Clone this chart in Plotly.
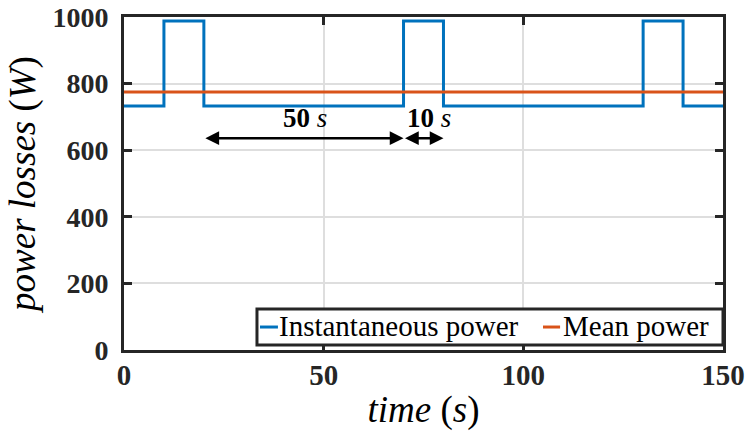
import plotly.graph_objects as go

# data
step_time = [0, 10, 20, 70, 80, 130, 140, 150]
inst_power = [733, 988, 733, 988, 733, 988, 733, 733]
mean_time = [0, 150]
mean_power = [775, 775]
series_names = ["Instantaneous power", "Mean power"]

x_ticks = [0, 50, 100, 150]
y_ticks = [0, 200, 400, 600, 800, 1000]

# annotation arrows (time spans)
span_labels = ["<b>50</b> <i>s</i>", "<b>10</b> <i>s</i>"]
span_start = [20, 70]
span_end = [70, 80]
span_label_x = [45.3, 76.3]
span_level = 636

AX = "#262626"
BLUE = "#0072BD"
ORANGE = "#D95319"
SERIF = "Liberation Serif"
colors = [BLUE, ORANGE]

fig = go.Figure()
fig.add_trace(go.Scatter(x=step_time, y=inst_power, mode="lines", line_shape="hv",
                         line=dict(color=BLUE, width=3), name=series_names[0], showlegend=False))
fig.add_trace(go.Scatter(x=mean_time, y=mean_power, mode="lines",
                         line=dict(color=ORANGE, width=3), name=series_names[1], showlegend=False))

for lab, s, e, lx in zip(span_labels, span_start, span_end, span_label_x):
    fig.add_annotation(x=e, y=span_level, ax=s, ay=span_level, xref="x", yref="y",
                       axref="x", ayref="y", showarrow=True, arrowhead=2, startarrowhead=2,
                       arrowside="end+start", arrowsize=1.1, startarrowsize=1.1, arrowwidth=2.5,
                       arrowcolor="black", text="", standoff=0, startstandoff=0)
    fig.add_annotation(x=lx, y=span_level, xref="x", yref="y",
                       text=lab, showarrow=False, yshift=20,
                       font=dict(family=SERIF, size=27, color="black"))

# legend box (drawn inside the plot, bottom-right, as in the reference)
leg_x0, leg_x1, leg_y0, leg_y1 = 0.222, 1.0, 0.015, 0.123
fig.add_shape(type="rect", xref="paper", yref="paper", x0=leg_x0, x1=leg_x1, y0=leg_y0, y1=leg_y1,
              line=dict(color=AX, width=3), fillcolor="white", layer="above")
leg_line_x = [(0.227, 0.257), (0.6995, 0.728)]
leg_text_x = [0.258, 0.7325]
leg_y = 0.069
for (a, b), tx, name, c in zip(leg_line_x, leg_text_x, series_names, colors):
    fig.add_shape(type="line", xref="paper", yref="paper", x0=a, x1=b, y0=leg_y, y1=leg_y,
                  line=dict(color=c, width=3), layer="above")
    fig.add_annotation(x=tx, y=leg_y, xref="paper", yref="paper", text=name, showarrow=False,
                       xanchor="left", yanchor="middle", xshift=-2, yshift=1,
                       font=dict(family=SERIF, size=29, color="black"))

fig.update_layout(
    width=750, height=437,
    margin=dict(l=124, r=27, t=17, b=87),
    paper_bgcolor="white", plot_bgcolor="white",
    showlegend=False,
)
fig.update_xaxes(range=[0, 150], tickvals=x_ticks, showgrid=True, gridcolor="#dedede", gridwidth=2,
                 showline=True, linecolor=AX, linewidth=3, mirror="ticks",
                 ticks="inside", ticklen=8, tickwidth=3, tickcolor=AX, zeroline=False,
                 ticklabeloverflow="allow", automargin=False,
                 tickfont=dict(family=SERIF, size=29, color=AX, weight="bold"), ticklabelstandoff=-3,
                 title=dict(text="<i>time</i> (<i>s</i>)", standoff=7,
                            font=dict(family=SERIF, size=37, color="black")))
fig.update_yaxes(range=[0, 1000], tickvals=y_ticks, showgrid=True, gridcolor="#dedede", gridwidth=2,
                 showline=True, linecolor=AX, linewidth=3, mirror="ticks",
                 ticks="inside", ticklen=8, tickwidth=3, tickcolor=AX, zeroline=False,
                 ticklabeloverflow="allow", automargin=False,
                 tickfont=dict(family=SERIF, size=28, color=AX, weight="bold"), ticklabelstandoff=7,
                 title=dict(text="<i>power losses</i> (<i>W</i>)", standoff=6,
                            font=dict(family=SERIF, size=37, color="black")))

fig.write_html("out.html")
